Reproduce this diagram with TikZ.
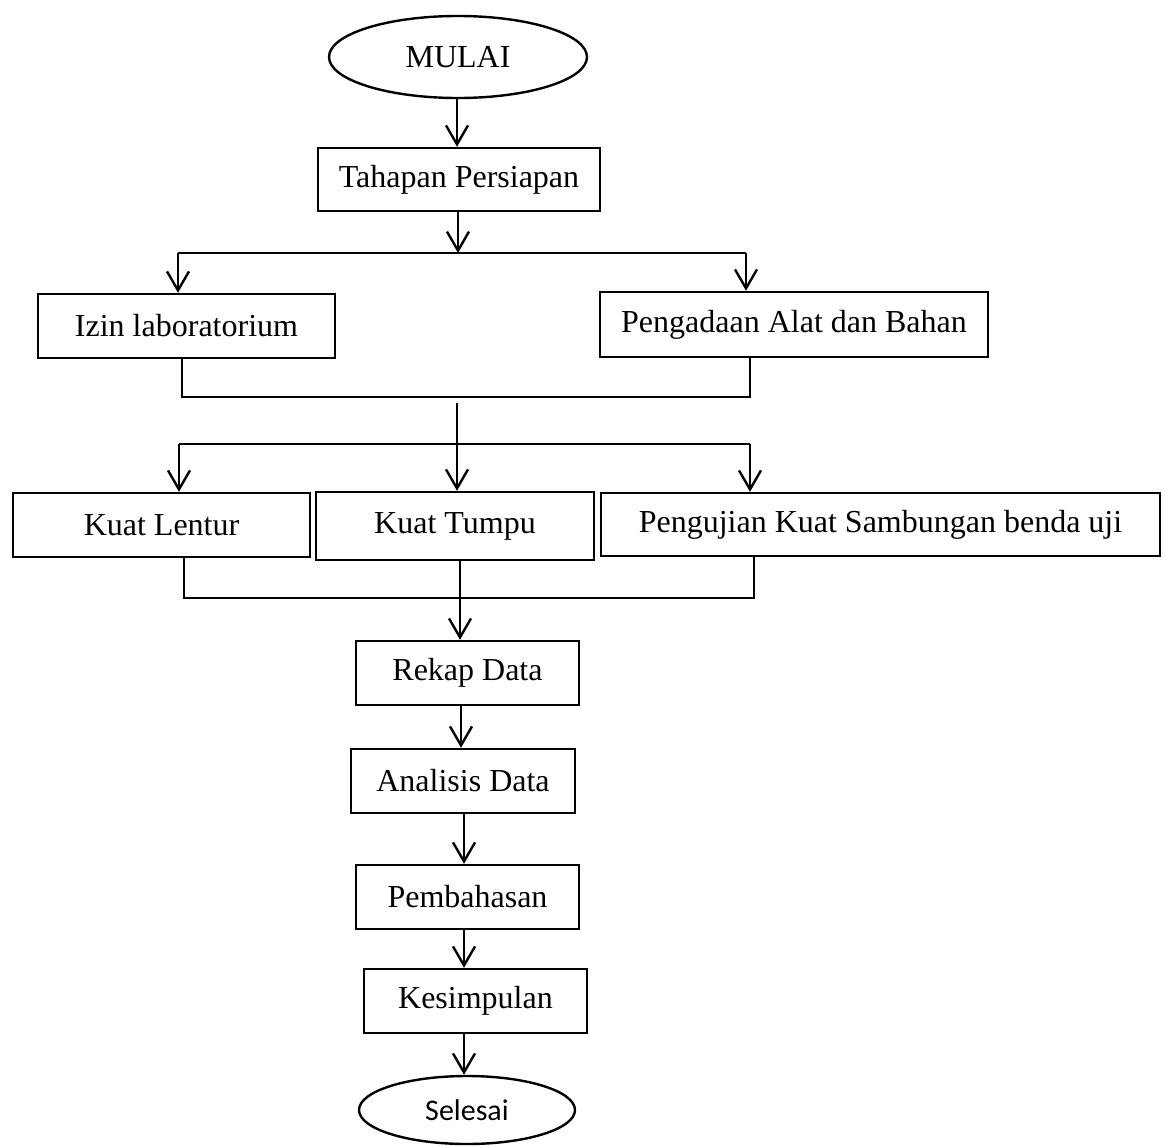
\documentclass[tikz,border=0pt]{standalone}
\usepackage{fontspec}
\setmainfont{Liberation Serif}
\newfontfamily\calibrifont{Carlito}
\usetikzlibrary{shapes.geometric,arrows.meta}
\begin{document}
\begin{tikzpicture}[x=1pt,y=-1pt,
  line width=2.4pt,
  txt/.style={font=\fontsize{32}{38}\selectfont},
  box/.style={draw, rectangle, inner sep=0pt, txt},
  oval/.style={draw, ellipse, inner sep=0pt},
  arr/.style={-{Straight Barb[length=19pt,width=22pt]}}]
\useasboundingbox (0,0) rectangle (1165,1146);
% nodes
\node[oval, txt, minimum width=258pt, minimum height=82pt] (mulai) at (458,57) {MULAI};
\node[box, minimum width=282pt, minimum height=63pt] (tahap) at (459,179.5) {Tahapan Persiapan};
\node[box, minimum width=297pt, minimum height=64pt] (izin) at (186.5,326) {Izin laboratorium};
\node[box, minimum width=388pt, minimum height=65pt] (pengadaan) at (794,324.5) {Pengadaan Alat dan Bahan};
\node[box, minimum width=297pt, minimum height=64pt] (lentur) at (161.5,525) {Kuat Lentur};
\node[box, minimum width=278pt, minimum height=68pt] (tumpu) at (455,526) {Kuat Tumpu};
\node[box, minimum width=559pt, minimum height=63pt] (pengujian) at (880.5,524.5) {Pengujian Kuat Sambungan benda uji};
\node[box, minimum width=223pt, minimum height=64pt] (rekap) at (467.5,673) {Rekap Data};
\node[box, minimum width=224pt, minimum height=64pt] (analisis) at (463,781) {Analisis Data};
\node[box, minimum width=223pt, minimum height=64pt] (pembahasan) at (467.5,897) {Pembahasan};
\node[box, minimum width=223pt, minimum height=64pt] (kesimpulan) at (475.5,1001) {Kesimpulan};
\node[oval, minimum width=216pt, minimum height=68pt, font=\calibrifont\fontsize{30}{36}\selectfont] (selesai) at (467,1110) {Selesai};
% helper coordinates
\coordinate (s1) at (458,253);
\coordinate (sL) at (178,253);
\coordinate (sR) at (746,253);
\coordinate (jL) at (182,397);
\coordinate (jR) at (750,397);
\coordinate (t1) at (457,403);
\coordinate (s2) at (457,444);
\coordinate (s2L) at (179,444);
\coordinate (s2R) at (750,444);
\coordinate (j2L) at (184,598);
\coordinate (j2R) at (754,598);
\coordinate (j2M) at (460,598);
\coordinate (v1) at (461,0);
\coordinate (v2) at (464,0);
% connectors
\draw[arr] (mulai.south -| 457,0) -- (tahap.north -| 457,0);
\draw[arr] (tahap.south -| s1) -- (s1);
\draw (sL) -- (sR);
\draw[arr] (sL) -- (sL |- izin.north);
\draw[arr] (sR) -- (sR |- pengadaan.north);
\draw (jL |- izin.south) -- (jL) -- (jR) -- (jR |- pengadaan.south);
\draw (t1) -- (s2);
\draw (s2L) -- (s2R);
\draw[arr] (s2L) -- (s2L |- lentur.north);
\draw[arr] (s2) -- (s2 |- tumpu.north);
\draw[arr] (s2R) -- (s2R |- pengujian.north);
\draw (j2L |- lentur.south) -- (j2L) -- (j2R) -- (j2R |- pengujian.south);
\draw[arr] (j2M |- tumpu.south) -- (j2M |- rekap.north);
\draw[arr] (rekap.south -| v1) -- (analisis.north -| v1);
\draw[arr] (analisis.south -| v2) -- (pembahasan.north -| v2);
\draw[arr] (pembahasan.south -| v2) -- (kesimpulan.north -| v2);
\draw[arr] (kesimpulan.south -| v2) -- (selesai.north -| v2);
\end{tikzpicture}
\end{document}
